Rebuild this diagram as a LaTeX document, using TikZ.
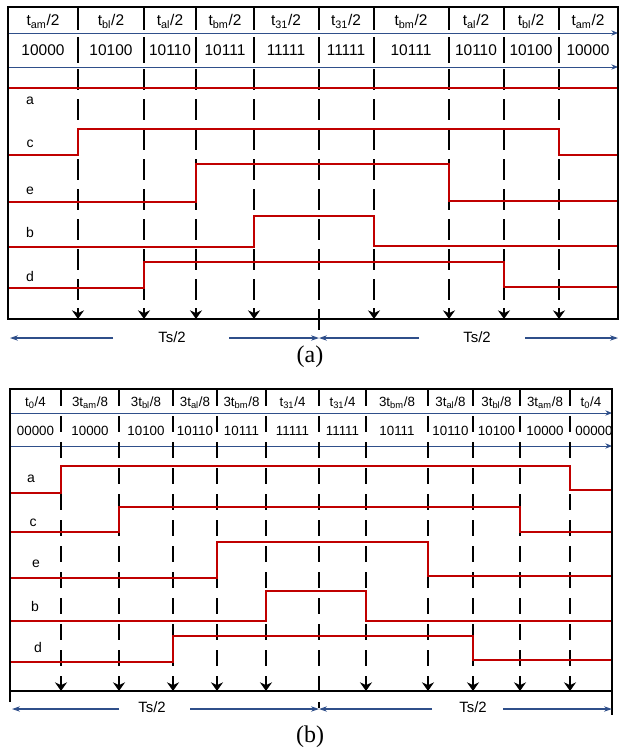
\documentclass[tikz,border=0pt]{standalone}
\usepackage{fontspec}
\setmainfont{Liberation Serif}
\newfontfamily\arial{Liberation Sans}
\usetikzlibrary{arrows.meta}
\definecolor{sigred}{HTML}{C00000}
\definecolor{navy}{HTML}{2F4F8A}
\begin{document}
\begin{tikzpicture}[x={(0.75pt,0)},y={(0,-0.75pt)},
  frame/.style={black,line width=1.6pt},
  div/.style={black,line width=2.1pt},
  dsha/.style={div,dash pattern=on 15.75pt off 6.75pt},
  dshb/.style={div,dash pattern=on 12pt off 7.5pt},
  sig/.style={sigred,line width=1.5pt},
  rowline/.style={navy,line width=0.7pt,-{Stealth[length=5pt,width=4pt]}},
  tsarr/.style={navy,line width=0.8pt,-{Stealth[length=6pt,width=4pt]}},
  downtip/.style={black,line width=2.1pt,-{Stealth[length=6.5pt,width=9pt]}},
  hdra/.style={font=\arial\fontsize{11.6}{13}\selectfont,inner sep=0,anchor=base},
  hdrb/.style={font=\arial\fontsize{10}{12}\selectfont,inner sep=0,anchor=base},
  lab/.style={font=\arial\fontsize{10.5}{12}\selectfont,inner sep=0},
  tstext/.style={font=\arial\fontsize{11.2}{13}\selectfont,inner sep=0},
  captext/.style={font=\fontsize{18}{20}\selectfont,inner sep=0}]
\useasboundingbox (0,0) rectangle (621,753);

%%%%%%%%%%%%%%%% panel (a)
\draw[rowline] (8,33) -- (618,33);
\draw[rowline] (8,67) -- (618,67);
\foreach \x in {78,144,196,254,319,374,449,504,559}{
  \draw[div] (\x,8) -- (\x,30);
  \draw[div] (\x,37) -- (\x,63);
}
\foreach \x in {78,144,196,254,374,449,504,559}{
  \draw[dsha] (\x,69) -- (\x,309);
  \draw[downtip] (\x,308) -- (\x,319);
}
\draw[dsha] (319,69) -- (319,336);
\draw[sig] (8,88) -- (618,88);
\draw[sig] (8,155) -- (78,155) -- (78,129) -- (559,129) -- (559,155) -- (618,155);
\draw[sig] (8,202) -- (196,202) -- (196,164) -- (449,164) -- (449,201) -- (618,201);
\draw[sig] (8,247) -- (254,247) -- (254,216) -- (374,216) -- (374,246) -- (618,246);
\draw[sig] (8,288) -- (144,288) -- (144,262) -- (504,262) -- (504,287) -- (618,287);
\draw[frame] (8,319) -- (8,7) -- (618,7) -- (618,319) -- cycle;
\foreach \x/\t [count=\i] in {43/am,111/bl,170/al,225/bm,286/31,346/31,411/bm,476/al,531/bl,588/am}{
  \node[hdra] (ha\i) at (\x,26) {t\textsubscript{\t}/2};
}
\foreach \x/\t [count=\i] in {43/10000,111/10100,170/10110,225/10111,286/11111,346/11111,411/10111,476/10110,531/10100,588/10000}{
  \node[hdra] (ca\i) at (\x,55) {\t};
}
\node[lab] (la) at (30,101) {a};
\node[lab] (lc) at (30,143.5) {c};
\node[lab] (le) at (30,191) {e};
\node[lab] (lb) at (30,232) {b};
\node[lab] (ld) at (30,276) {d};
\coordinate (aL) at (10,338); \coordinate (aM) at (319,338); \coordinate (aR) at (618,338);
\coordinate (aL1) at (113,338); \coordinate (aL2) at (229,338);
\coordinate (aR1) at (419,338); \coordinate (aR2) at (525,338);
\node[tstext] (tsa1) at (172,337) {Ts/2};
\node[tstext] (tsa2) at (477,337) {Ts/2};
\draw[tsarr] (aL1) -- (aL);
\draw[tsarr] (aL2) -- (aM);
\draw[tsarr] (aR1) -- (aM);
\draw[tsarr] (aR2) -- (aR);
\node[captext] (capa) at (310,357) {(a)};

%%%%%%%%%%%%%%%% panel (b)
\draw[rowline] (10,413) -- (612,413);
\draw[rowline] (10,446) -- (612,446);
\foreach \x in {61,119,173,217,266,366,428,473,520,570}{
  \draw[dshb] (\x,390) -- (\x,683);
  \draw[downtip] (\x,680) -- (\x,691);
}
\draw[dshb] (319,390) -- (319,708);
\draw[sig] (10,493) -- (61,493) -- (61,466) -- (570,466) -- (570,490) -- (612,490);
\draw[sig] (10,532) -- (119,532) -- (119,507) -- (520,507) -- (520,532) -- (612,532);
\draw[sig] (10,578) -- (217,578) -- (217,542) -- (428,542) -- (428,576) -- (612,576);
\draw[sig] (10,621) -- (266,621) -- (266,591) -- (366,591) -- (366,621) -- (612,621);
\draw[sig] (10,662) -- (173,662) -- (173,636) -- (473,636) -- (473,660) -- (612,660);
\begin{scope}
\clip (10,389) rectangle (612,446);
\foreach \x/\t [count=\i] in {35.5/{t\textsubscript{0}/4},90/{3t\textsubscript{am}/8},146/{3t\textsubscript{bl}/8},195/{3t\textsubscript{al}/8},241.5/{3t\textsubscript{bm}/8},292.5/{t\textsubscript{31}/4},342.5/{t\textsubscript{31}/4},397/{3t\textsubscript{bm}/8},450.5/{3t\textsubscript{al}/8},496.5/{3t\textsubscript{bl}/8},545/{3t\textsubscript{am}/8},591/{t\textsubscript{0}/4}}{
  \node[hdrb] (hb\i) at (\x,406) {\t};
}
\foreach \x/\t [count=\i] in {35.5/00000,90/10000,146/10100,195/10110,241.5/10111,292.5/11111,342.5/11111,397/10111,450.5/10110,496.5/10100,545/10000,594/00000}{
  \node[hdrb] (cb\i) at (\x,435) {\t};
}
\end{scope}
\draw[frame] (10,702) -- (10,389) -- (612,389) -- (612,715);
\draw[frame] (10,691) -- (612,691);
\node[lab] (lba) at (31,479) {a};
\node[lab] (lbc) at (33,523) {c};
\node[lab] (lbe) at (36,564) {e};
\node[lab] (lbb) at (35,606) {b};
\node[lab] (lbd) at (38,647) {d};
\coordinate (bL) at (12,709); \coordinate (bM) at (319,709); \coordinate (bR) at (612,709);
\coordinate (bL1) at (119,709); \coordinate (bL2) at (190,709);
\coordinate (bR1) at (432,709); \coordinate (bR2) at (503,709);
\node[tstext] (tsb1) at (152,707) {Ts/2};
\node[tstext] (tsb2) at (473,707) {Ts/2};
\draw[tsarr] (bL1) -- (bL);
\draw[tsarr] (bL2) -- (bM);
\draw[tsarr] (bR1) -- (bM);
\draw[tsarr] (bR2) -- (bR);
\node[captext] (capb) at (310,737) {(b)};
\end{tikzpicture}
\end{document}
